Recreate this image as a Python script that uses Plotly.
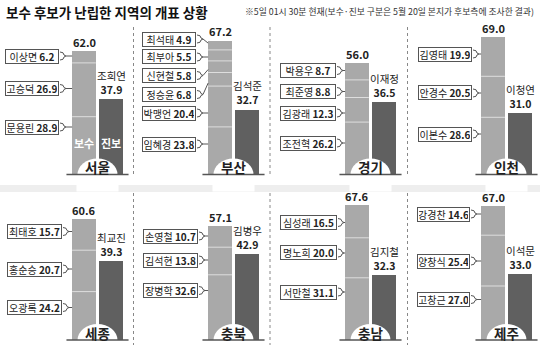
import plotly.graph_objects as go

# ---------------- data ----------------
regions = ["서울", "부산", "경기", "인천", "세종", "충북", "충남", "제주"]
cons_names = [
    ["이상면", "고승덕", "문용린"],
    ["최석태", "최부아", "신현철", "정승윤", "박맹언", "임혜경"],
    ["박용우", "최준영", "김광래", "조전혁"],
    ["김영태", "안경수", "이본수"],
    ["최태호", "홍순승", "오광록"],
    ["손영철", "김석현", "장병학"],
    ["심성래", "명노희", "서만철"],
    ["강경찬", "양창식", "고창근"],
]
cons_values = [
    [6.2, 26.9, 28.9],
    [4.9, 5.5, 5.8, 6.8, 20.4, 23.8],
    [8.7, 8.8, 12.3, 26.2],
    [19.9, 20.5, 28.6],
    [15.7, 20.7, 24.2],
    [10.7, 13.8, 32.6],
    [16.5, 20.0, 31.1],
    [14.6, 25.4, 27.0],
]
cons_totals = [62.0, 67.2, 56.0, 69.0, 60.6, 57.1, 67.6, 67.0]
prog_names = ["조희연", "김석준", "이재정", "이청연", "최교진", "김병우", "김지철", "이석문"]
prog_values = [37.9, 32.7, 36.5, 31.0, 39.3, 42.9, 32.3, 33.0]

title_text = "보수 후보가 난립한 지역의 개표 상황"
note_text = "※5일 01시 30분 현재(보수·진보 구분은 5월 20일 본지가 후보측에 조사한 결과)"

# ---------------- layout geometry (pixels) ----------------
W, H = 540, 351
FONT = "Noto Sans CJK KR"
CONS_C = "#a9a9a9"
PROG_C = "#606060"
CC = [84, 220, 357, 493]           # centre of conservative bar per column
PITCH = 27                         # px between the two bars
BASE = [174.5, 340]                # baseline per row
SCALE = 2.0                        # px per percentage point
YMAX = 75
BARW = 0.88

box_lr = [(5, 59), (142, 196), (280, 336), (418, 472),
          (7, 62), (143, 198), (280, 337), (417, 470)]
box_y = [
    [56, 88.5, 127],
    [39, 57, 75.5, 94.5, 113, 144],
    [70.5, 91.5, 113, 143],
    [54, 93, 134],
    [231.5, 269, 307.5],
    [236, 260, 290.5],
    [222.5, 253, 292],
    [214, 261, 299.5],
]


def px_x(p):
    return p / W


def px_y(p):
    return 1 - p / H


fig = go.Figure()
shapes = []
annotations = []

for i, reg in enumerate(regions):
    row, col = divmod(i, 4)
    cc = CC[col]
    base = BASE[row]
    xa = "x" if i == 0 else f"x{i+1}"
    ya = "y" if i == 0 else f"y{i+1}"
    xkey = "xaxis" if i == 0 else f"xaxis{i+1}"
    ykey = "yaxis" if i == 0 else f"yaxis{i+1}"

    def xpx(u, cc=cc):
        return cc + u * PITCH

    def ypx(v, base=base):
        return base - v * SCALE

    names = cons_names[i]
    vals = cons_values[i]
    # stacked conservative segments (bottom first)
    for n, v in reversed(list(zip(names, vals))):
        fig.add_trace(go.Bar(x=[0], y=[v], width=BARW, marker=dict(color=CONS_C, line=dict(width=0)),
                             xaxis=xa, yaxis=ya, showlegend=False, hoverinfo="skip"))
    fig.add_trace(go.Bar(x=[1], y=[prog_values[i]], width=BARW, marker=dict(color=PROG_C, line=dict(width=0)),
                         xaxis=xa, yaxis=ya, showlegend=False, hoverinfo="skip"))

    fig.layout[xkey] = dict(domain=[px_x(cc - 0.6 * PITCH), px_x(cc + 1.6 * PITCH)], range=[-0.6, 1.6],
                            anchor=ya, showgrid=False, zeroline=False, showticklabels=False, ticks="",
                            showline=False, fixedrange=True)
    fig.layout[ykey] = dict(domain=[px_y(base), px_y(base - YMAX * SCALE)], range=[0, YMAX], anchor=xa,
                            showgrid=False, zeroline=False, showticklabels=False, ticks="", showline=False,
                            fixedrange=True)

    # segment boundaries
    top = 0
    seg_ranges = []
    for v in vals:  # top to bottom
        seg_top = cons_totals[i] - top
        seg_bot = seg_top - v
        seg_ranges.append((seg_top, seg_bot))
        top += v
        if seg_bot > 0.05:
            shapes.append(dict(type="line", xref=xa, yref=ya, x0=-BARW / 2, x1=BARW / 2, y0=seg_bot, y1=seg_bot,
                               line=dict(color="#dedede", width=1), layer="above"))

    # label boxes and connectors
    bl, br = box_lr[i]
    for k, (n, v) in enumerate(zip(names, vals)):
        by = box_y[i][k]
        annotations.append(dict(xref="paper", yref="paper", x=px_x((bl + br) / 2), y=px_y(by),
                                text=f"{n} <b>{v:.1f}</b>", showarrow=False, xanchor="center", yanchor="middle",
                                font=dict(family=FONT, size=10, color="#222"), bgcolor="white",
                                bordercolor="#555", borderwidth=1, borderpad=1, width=br - bl - 4, height=11))
        st, sb = seg_ranges[k]
        t_top, t_bot = ypx(st) + 3, ypx(sb) - 3
        ty = min(max(by, t_top), t_bot)
        bx = br + 1
        path = (f"M{px_x(bx)},{px_y(by-4)}Q{px_x(bx+4)},{px_y(by-4)},{px_x(bx+4)},{px_y(by-1)}"
                f"L{px_x(bx+6)},{px_y(by)}L{px_x(bx+4)},{px_y(by+1)}"
                f"Q{px_x(bx+4)},{px_y(by+4)},{px_x(bx)},{px_y(by+4)}")
        shapes.append(dict(type="path", xref="paper", yref="paper", path=path,
                           line=dict(color="#555", width=1)))
        shapes.append(dict(type="line", xref="paper", yref="paper", x0=px_x(bx + 6), y0=px_y(by),
                           x1=px_x(xpx(-BARW / 2)), y1=px_y(ty), line=dict(color="#555", width=1)))

    # totals
    annotations.append(dict(xref=xa, yref=ya, x=0, y=cons_totals[i], text=f"<b>{cons_totals[i]:.1f}</b>",
                            showarrow=False, yanchor="bottom", yshift=-1,
                            font=dict(family=FONT, size=11, color="#222")))
    annotations.append(dict(xref=xa, yref=ya, x=1, y=prog_values[i],
                            text=f"{prog_names[i]}<br><b>{prog_values[i]:.1f}</b>",
                            showarrow=False, yanchor="bottom", yshift=0,
                            font=dict(family=FONT, size=10.5, color="#222")))

    # white half-ellipse with region name, then baseline on top
    mx = xpx(0.5)
    r, h = 20, 16
    shapes.append(dict(type="circle", xref="paper", yref="paper", x0=px_x(mx - r), x1=px_x(mx + r),
                       y0=px_y(base + h), y1=px_y(base - h), fillcolor="white", line=dict(width=0),
                       layer="above"))
    shapes.append(dict(type="rect", xref="paper", yref="paper", x0=px_x(mx - r - 1), x1=px_x(mx + r + 1),
                       y0=px_y(base + h + 1), y1=px_y(base + 0.5), fillcolor="white", line=dict(width=0),
                       layer="above"))
    shapes.append(dict(type="line", xref="paper", yref="paper", x0=px_x(xpx(-0.65)), x1=px_x(xpx(1.65)),
                       y0=px_y(base), y1=px_y(base), line=dict(color="#555", width=1.5), layer="above"))
    annotations.append(dict(xref="paper", yref="paper", x=px_x(mx), y=px_y(base - 7.5), text=f"<b>{reg}</b>",
                            showarrow=False, xanchor="center", yanchor="middle",
                            font=dict(family=FONT, size=13.5, color="#222")))

    if i == 0:
        for u, t in [(0, "보수"), (1, "진보")]:
            annotations.append(dict(xref=xa, yref=ya, x=u, y=(base - 143) / SCALE, text=f"<b>{t}</b>",
                                    showarrow=False, font=dict(family=FONT, size=11, color="white")))

# panel separators
for row, (y0, y1) in enumerate([(27, 176), (193, 345)]):
    for xs in [133.5, 270, 407.5]:
        shapes.append(dict(type="line", xref="paper", yref="paper", x0=px_x(xs), x1=px_x(xs),
                           y0=px_y(y0), y1=px_y(y1), line=dict(color="#888", width=1, dash="dot")))

# light band between rows
shapes.append(dict(type="rect", xref="paper", yref="paper", x0=0, x1=1, y0=px_y(192), y1=px_y(185),
                   fillcolor="#eeeeee", line=dict(width=0), layer="below"))

annotations.append(dict(xref="paper", yref="paper", x=px_x(4), y=px_y(12), text=f"<b>{title_text}</b>",
                        showarrow=False, xanchor="left", yanchor="middle",
                        font=dict(family=FONT, size=13.5, color="#111")))
annotations.append(dict(xref="paper", yref="paper", x=px_x(536), y=px_y(12), text=note_text,
                        showarrow=False, xanchor="right", yanchor="middle",
                        font=dict(family=FONT, size=8.8, color="#333")))

fig.update_layout(width=W, height=H, margin=dict(l=0, r=0, t=0, b=0), barmode="stack", bargap=0,
                  paper_bgcolor="white", plot_bgcolor="rgba(0,0,0,0)", shapes=shapes,
                  annotations=annotations, showlegend=False)

fig.write_html("out.html", config={"displayModeBar": False})
